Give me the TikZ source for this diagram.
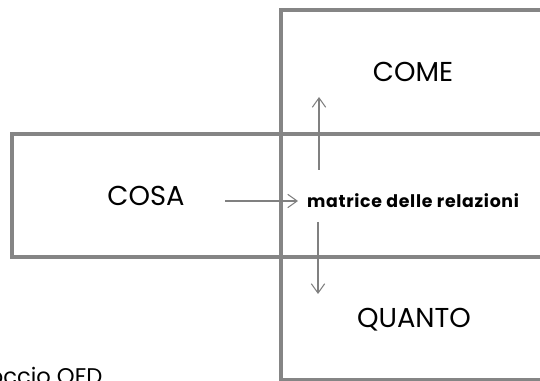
\documentclass[tikz,border=0pt]{standalone}
\usepackage{fontspec}
\setmainfont{Poppins}
\usetikzlibrary{arrows.meta}

\begin{document}
\begin{tikzpicture}[x=0.75pt,y=-0.75pt,
    box/.style={draw=black!48,line width=2.6pt},
    freccia/.style={draw=black!50,line width=0.8pt,-{Straight Barb[length=7pt,width=10pt]}}]
            \useasboundingbox (0,0) rectangle (540,381);

            \draw[box] (281,10) rectangle (600,379.5);
            \draw[box] (12,134) rectangle (600,257);

            \node (cosa) at (146,196) {\fontsize{20.5}{22}\selectfont COSA};
            \node (come) at (413,72) {\fontsize{20.5}{22}\selectfont COME};
            \node (quanto) at (414,320) {\fontsize{20.5}{22}\selectfont QUANTO};
            \node (matrice) at (413,201) {\fontsize{13}{15}\selectfont\addfontfeatures{LetterSpace=4}\bfseries matrice delle relazioni};
            \node (titolo) [anchor=base east] at (107,385) {\fontsize{17}{19}\selectfont Approccio QFD};

            \coordinate (a1) at (225,201);
            \coordinate (a2) at (298,201);
            \coordinate (b1) at (319,170);
            \coordinate (b2) at (319,97);
            \coordinate (c1) at (318,222);
            \coordinate (c2) at (318,294);

            \draw[freccia] (a1) -- (a2);
            \draw[freccia] (b1) -- (b2);
            \draw[freccia] (c1) -- (c2);
        \end{tikzpicture}
\end{document}
